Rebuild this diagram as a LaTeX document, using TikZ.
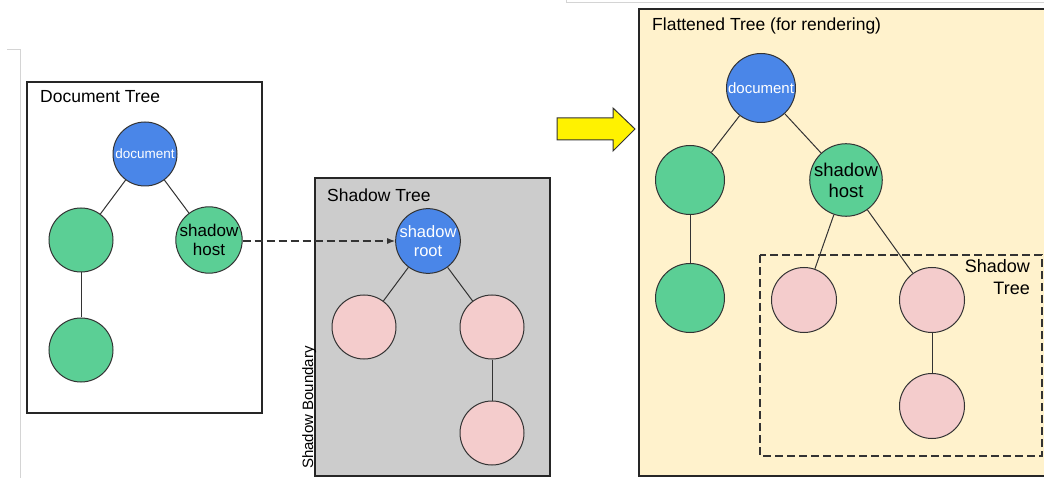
\documentclass[tikz,border=0pt]{standalone}
\usepackage{fontspec}
\setmainfont{Liberation Sans}
\usetikzlibrary{arrows.meta}
\definecolor{gblue}{HTML}{4A86E8}
\definecolor{ggreen}{HTML}{5BCF95}
\definecolor{gpink}{HTML}{F4CCCC}
\definecolor{ggrey}{HTML}{CCCCCC}
\definecolor{gcream}{HTML}{FFF2CC}
\definecolor{gline}{HTML}{333333}
\definecolor{faint}{HTML}{D4D4D4}
\tikzset{
  nd/.style={circle, draw=gline, line width=1pt, inner sep=0pt, align=center},
  bluend/.style={nd, fill=gblue, text=white},
  greennd/.style={nd, fill=ggreen},
  pinknd/.style={nd, fill=gpink},
  edge/.style={draw=gline, line width=1pt},
  panel/.style={draw=black!85, line width=1.2pt},
  title/.style={inner sep=0pt, font=\fontsize{17.5}{20}\selectfont},
}
\begin{document}
\begin{tikzpicture}[x=1pt,y=-1pt]
\clip (0,0) rectangle (1044,478);
\fill[white] (0,0) rectangle (1044,478);
% faint artifact lines
\draw[faint, line width=1pt] (7,50) -- (20,50) -- (20,480);
\draw[faint, line width=1pt] (566,-2) -- (566,3) -- (1050,3);

% Document tree panel
\draw[panel, fill=white] (27,82) rectangle (262,413);
\node[title, anchor=base west] (tdoc) at (40,103) {Document Tree};
\node[bluend, minimum size=64pt, font=\fontsize{13.5}{15}\selectfont] (d) at (145,154) {document};
\node[greennd, minimum size=64pt] (dl) at (81,240) {};
\node[greennd, minimum size=63pt, font=\fontsize{17}{19}\selectfont] (dh) at (209,240) {shadow\\host};
\node[greennd, minimum size=64pt] (dlb) at (81,350) {};
\draw[edge] (d) -- (dl);
\draw[edge] (d) -- (dh);
\draw[edge] (dl) -- (dlb);

% Shadow tree panel
\draw[panel, fill=ggrey] (315,178) rectangle (550,476);
\node[title, anchor=base west] (tsh) at (327,202) {Shadow Tree};
\node[inner sep=0pt, rotate=90, anchor=base west, font=\fontsize{15}{17}\selectfont] (sb) at (313,469) {Shadow Boundary};
\node[bluend, minimum size=63pt, font=\fontsize{16.5}{19}\selectfont] (sr) at (428,241) {shadow\\root};
\node[pinknd, minimum size=64pt] (sl) at (364,327) {};
\node[pinknd, minimum size=64pt] (srr) at (492,327) {};
\node[pinknd, minimum size=64pt] (srb) at (492,433) {};
\draw[edge] (sr) -- (sl);
\draw[edge] (sr) -- (srr);
\draw[edge] (srr) -- (srb);

% dashed connector
\draw[gline, line width=1.1pt, dash pattern=on 8pt off 4pt, -{Latex[length=8pt,width=6pt]}] (dh.east |- 0,241) -- (sr.west);

% yellow arrow
\draw[black!80, line width=1pt, fill=yellow, line join=miter] (557,118) -- (613,118) -- (613,108) -- (635,129) -- (613,151) -- (613,140) -- (557,140) -- cycle;

% Flattened panel
\draw[panel, fill=gcream] (639,9) rectangle (1060,476);
\node[title, anchor=base west] (tfl) at (652,31) {Flattened Tree (for rendering)};
\node[bluend, minimum size=69pt, font=\fontsize{15}{17}\selectfont] (fd) at (761,88) {document};
\node[greennd, minimum size=69pt] (fl) at (690,180) {};
\node[greennd, minimum size=69pt, font=\fontsize{18.5}{21}\selectfont] (fh) at (846,180) {shadow\\host};
\node[greennd, minimum size=69pt] (flb) at (690,298) {};
\draw[edge] (fd) -- (fl);
\draw[edge] (fd) -- (fh);
\draw[edge] (fl) -- (flb);
\draw[gline, line width=1.3pt, dash pattern=on 8pt off 4pt] (760,255) rectangle (1042,456);
\node[inner sep=0pt, anchor=north east, align=right, font=\fontsize{18}{22}\selectfont] (fst) at (1030,259) {Shadow\\Tree};
\node[pinknd, minimum size=65pt] (fpl) at (804,300) {};
\node[pinknd, minimum size=65pt] (fpr) at (932,300) {};
\node[pinknd, minimum size=65pt] (fpb) at (932,406) {};
\draw[edge] (fh) -- (fpl);
\draw[edge] (fh) -- (fpr);
\draw[edge] (fpr) -- (fpb);
\end{tikzpicture}
\end{document}
